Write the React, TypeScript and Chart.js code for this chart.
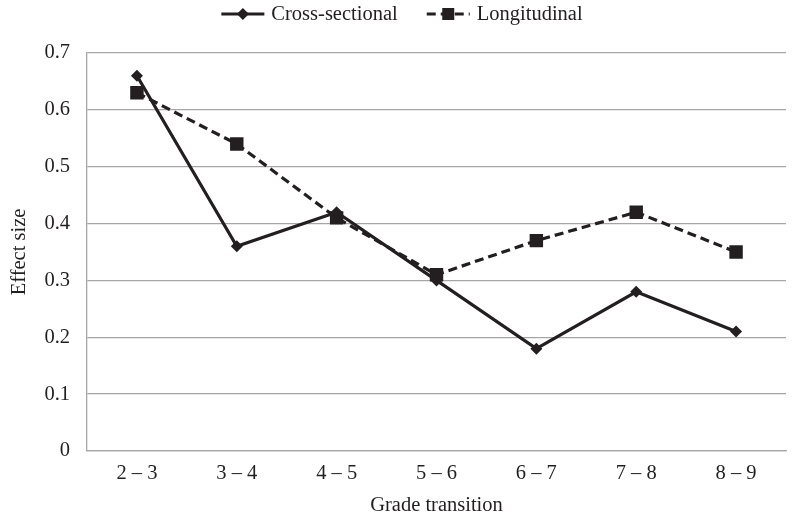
import React, { useEffect, useRef } from "react";
import { Chart, registerables } from "chart.js";

Chart.register(...registerables);

const categories = ["2 – 3", "3 – 4", "4 – 5", "5 – 6", "6 – 7", "7 – 8", "8 – 9"];
const crossSectional = [0.66, 0.36, 0.42, 0.30, 0.18, 0.28, 0.21];
const longitudinal = [0.63, 0.54, 0.41, 0.31, 0.37, 0.42, 0.35];
const seriesLabels = ["Cross-sectional", "Longitudinal"];
const yTitle = "Effect size";
const xTitle = "Grade transition";

const INK = "#231f20";
const GRID = "#a6a6a6";
const FONT = "'Liberation Serif', 'DejaVu Serif', serif";
const FS = 20.5;

const legendPlugin = {
  id: "customLegend",
  afterDraw(chart: any) {
    const ctx = chart.ctx;
    ctx.save();
    ctx.font = `${FS}px ${FONT}`;
    ctx.fillStyle = INK;
    ctx.textBaseline = "middle";
    const y = 14;
    const symW = 43;
    const gapSym = 7;
    const gapItems = 29;
    const widths = chart.data.datasets.map((d: any) => ctx.measureText(d.label).width);
    const total = widths.reduce((a: number, w: number) => a + symW + gapSym + w, 0) + gapItems * (widths.length - 1);
    let x = 402 - total / 2;
    chart.data.datasets.forEach((d: any, i: number) => {
      ctx.strokeStyle = INK;
      ctx.lineWidth = 3;
      ctx.setLineDash(d.borderDash || []);
      ctx.beginPath();
      ctx.moveTo(x, y);
      ctx.lineTo(x + symW, y);
      ctx.stroke();
      ctx.setLineDash([]);
      const cx = x + symW / 2;
      ctx.fillStyle = INK;
      ctx.beginPath();
      if (d.pointStyle === "rectRot") {
        const r = 6;
        ctx.moveTo(cx, y - r);
        ctx.lineTo(cx + r, y);
        ctx.lineTo(cx, y + r);
        ctx.lineTo(cx - r, y);
        ctx.closePath();
      } else {
        const s = 6;
        ctx.rect(cx - s, y - s, 2 * s, 2 * s);
      }
      ctx.fill();
      ctx.fillStyle = INK;
      ctx.fillText(d.label, x + symW + gapSym, y + 1);
      x += symW + gapSym + widths[i] + gapItems;
    });
    ctx.restore();
  },
};

export default function App() {
  const ref = useRef<HTMLCanvasElement>(null);
  useEffect(() => {
    if (!ref.current) return;
    const chart = new Chart(ref.current, {
      type: "line",
      data: {
        labels: categories,
        datasets: [
          {
            label: seriesLabels[0],
            data: crossSectional,
            borderColor: INK,
            backgroundColor: INK,
            borderWidth: 3.2,
            pointStyle: "rectRot",
            pointRadius: 6,
            pointBorderWidth: 0,
            tension: 0,
          },
          {
            label: seriesLabels[1],
            data: longitudinal,
            borderColor: INK,
            backgroundColor: INK,
            borderWidth: 3.2,
            borderDash: [9, 5],
            pointStyle: "rect",
            pointRadius: 9.5,
            pointBorderWidth: 0,
            tension: 0,
          },
        ],
      },
      options: {
        animation: false,
        responsive: false,
        layout: { padding: { top: 53, right: 14, left: 0, bottom: 0 } },
        plugins: { legend: { display: false }, tooltip: { enabled: false } },
        scales: {
          x: {
            offset: true,
            grid: { display: false, drawTicks: false },
            border: { display: true, color: GRID, width: 1.3 },
            ticks: { color: INK, font: { family: FONT, size: FS }, padding: 10 },
            title: {
              display: true,
              text: xTitle,
              color: INK,
              font: { family: FONT, size: FS },
              padding: { top: 0, bottom: 4.5 },
            },
            afterFit(scale: any) {
              scale.height = 71;
            },
          },
          y: {
            min: 0,
            max: 0.7,
            ticks: {
              stepSize: 0.1,
              color: INK,
              font: { family: FONT, size: FS },
              padding: 17,
              callback: (v: any) => (Math.round(Number(v) * 10) / 10).toString(),
            },
            grid: { color: GRID, lineWidth: 1.3, drawTicks: false },
            border: { display: true, color: GRID, width: 1.3 },
            title: {
              display: true,
              text: yTitle,
              color: INK,
              font: { family: FONT, size: FS },
              padding: { top: 7, bottom: 0 },
            },
            afterFit(scale: any) {
              scale.width = 87;
            },
          },
        },
      },
      plugins: [legendPlugin],
    });
    return () => chart.destroy();
  }, []);
  return (
    <div style={{ position: "absolute", left: 0, top: 0, width: 800, height: 522, background: "#fff" }}>
      <canvas ref={ref} width={800} height={522} />
    </div>
  );
}
